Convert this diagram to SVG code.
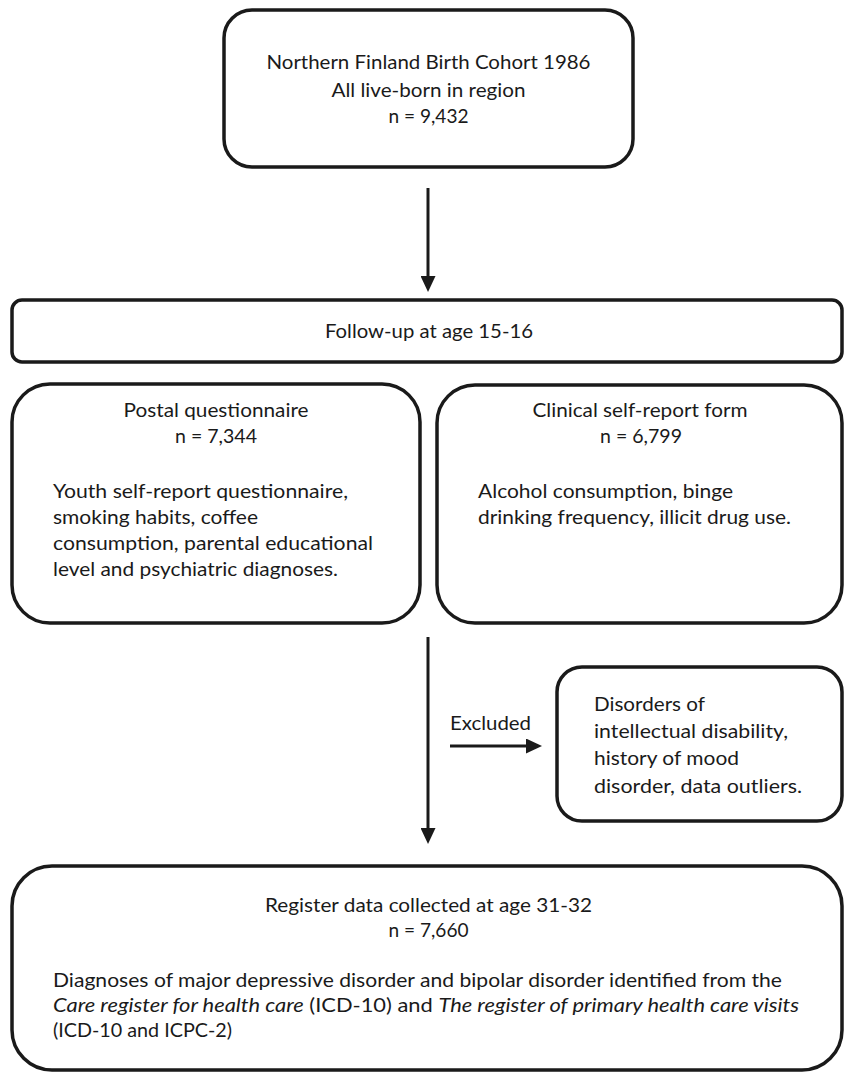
<svg xmlns="http://www.w3.org/2000/svg" width="844" height="1073" viewBox="0 0 844 1073">
<style>
.box{fill:#fff;stroke:#1a1a1a;stroke-width:3.5}
.t{font-family:Lato,"Open Sans","Liberation Sans",sans-serif;font-size:20px;fill:#1a1a1a}
.c{text-anchor:middle}
.conn line{stroke:#1a1a1a;stroke-width:3;marker-end:url(#ah)}
</style>
<defs>
<marker id="ah" viewBox="0 0 16 15" refX="0" refY="7.5" markerWidth="16" markerHeight="15" orient="auto" markerUnits="userSpaceOnUse">
<path d="M0,0 L16,7.5 L0,15 z" fill="#1a1a1a"/>
</marker>
</defs>
<rect width="844" height="1073" fill="#fff"/>
<g id="cohort">
<rect class="box" x="224" y="10" width="409" height="157" rx="28"/>
<text class="t c" x="428.5" y="69" textLength="324" lengthAdjust="spacingAndGlyphs">Northern Finland Birth Cohort 1986</text>
<text class="t c" x="428.5" y="97" textLength="194" lengthAdjust="spacingAndGlyphs">All live-born in region</text>
<text class="t c" x="428.5" y="123" textLength="80" lengthAdjust="spacingAndGlyphs">n = 9,432</text>
</g>
<g id="followup">
<rect class="box" x="12" y="300" width="830" height="62" rx="10"/>
<text class="t c" x="429" y="338" textLength="208" lengthAdjust="spacingAndGlyphs">Follow-up at age 15-16</text>
</g>
<g id="postal">
<rect class="box" x="12" y="384" width="408" height="239" rx="38"/>
<text class="t c" x="216" y="417" textLength="185" lengthAdjust="spacingAndGlyphs">Postal questionnaire</text>
<text class="t c" x="216" y="443" textLength="82" lengthAdjust="spacingAndGlyphs">n = 7,344</text>
<text class="t" x="53" y="498" textLength="295" lengthAdjust="spacingAndGlyphs">Youth self-report questionnaire,</text>
<text class="t" x="53" y="524" textLength="205" lengthAdjust="spacingAndGlyphs">smoking habits, coffee</text>
<text class="t" x="53" y="550" textLength="320" lengthAdjust="spacingAndGlyphs">consumption, parental educational</text>
<text class="t" x="53" y="576" textLength="285" lengthAdjust="spacingAndGlyphs">level and psychiatric diagnoses.</text>
</g>
<g id="clinical">
<rect class="box" x="437" y="385" width="405" height="238" rx="38"/>
<text class="t c" x="640" y="417" textLength="215" lengthAdjust="spacingAndGlyphs">Clinical self-report form</text>
<text class="t c" x="641" y="443" textLength="82" lengthAdjust="spacingAndGlyphs">n = 6,799</text>
<text class="t" x="478" y="498" textLength="255" lengthAdjust="spacingAndGlyphs">Alcohol consumption, binge</text>
<text class="t" x="478" y="524" textLength="313" lengthAdjust="spacingAndGlyphs">drinking frequency, illicit drug use.</text>
</g>
<g id="excluded">
<rect class="box" x="557" y="667" width="285" height="154" rx="25"/>
<text class="t" x="594" y="711" textLength="111" lengthAdjust="spacingAndGlyphs">Disorders of</text>
<text class="t" x="594" y="738" textLength="194" lengthAdjust="spacingAndGlyphs">intellectual disability,</text>
<text class="t" x="594" y="765" textLength="145" lengthAdjust="spacingAndGlyphs">history of mood</text>
<text class="t" x="594" y="793" textLength="208" lengthAdjust="spacingAndGlyphs">disorder, data outliers.</text>
</g>
<g id="register">
<rect class="box" x="12" y="866" width="830" height="204" rx="40"/>
<text class="t c" x="428.5" y="912" textLength="327" lengthAdjust="spacingAndGlyphs">Register data collected at age 31-32</text>
<text class="t c" x="428.5" y="937" textLength="80" lengthAdjust="spacingAndGlyphs">n = 7,660</text>
<text class="t" x="53" y="987" textLength="729" lengthAdjust="spacingAndGlyphs">Diagnoses of major depressive disorder and bipolar disorder identified from the</text>
<text class="t" x="53" y="1012" textLength="746" lengthAdjust="spacingAndGlyphs"><tspan font-style="italic">Care register for health care</tspan> (ICD-10) and <tspan font-style="italic">The register of primary health care visits</tspan></text>
<text class="t" x="53" y="1037" textLength="179" lengthAdjust="spacingAndGlyphs">(ICD-10 and ICPC-2)</text>
</g>
<g id="connectors" class="conn">
<line x1="428" y1="188" x2="428" y2="276"/>
<line x1="428" y1="637" x2="428" y2="828"/>
<line x1="450" y1="746" x2="526" y2="746"/>
<text class="t" x="450" y="730" textLength="81" lengthAdjust="spacingAndGlyphs">Excluded</text>
</g>
</svg>
